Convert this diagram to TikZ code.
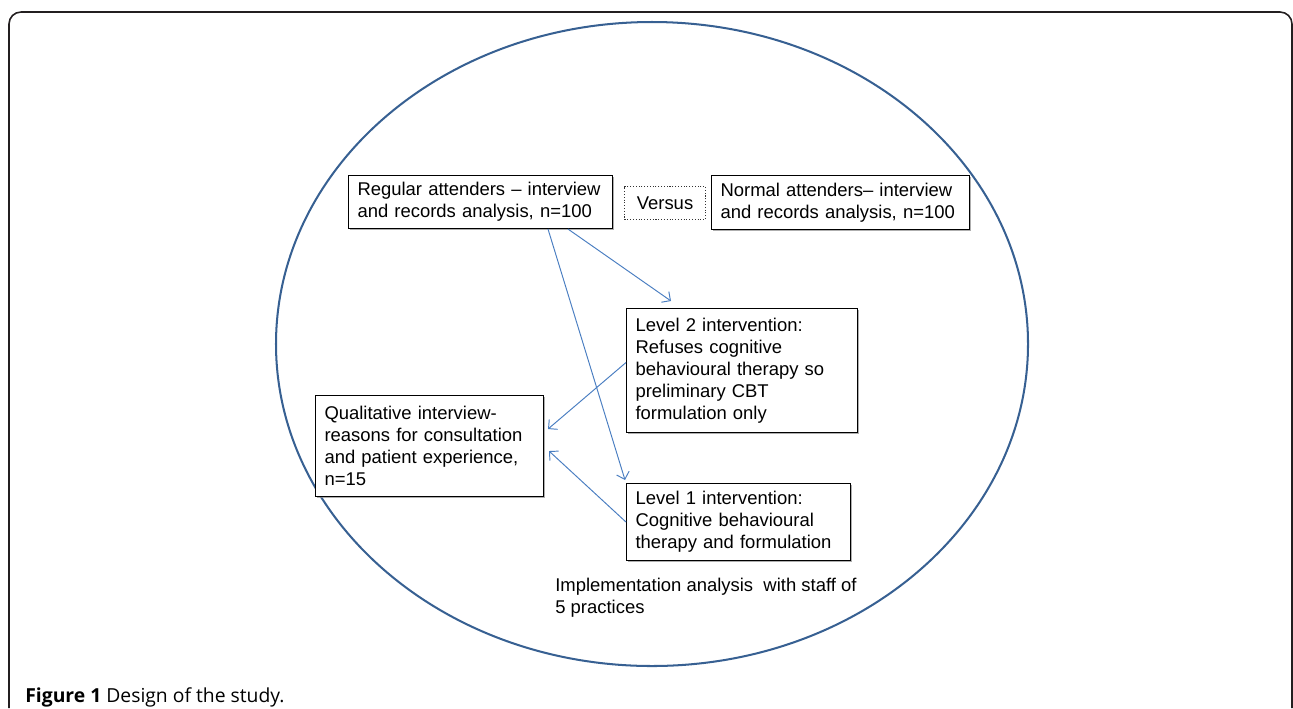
\documentclass[tikz,border=0pt]{standalone}
\usepackage{fontspec}
\setmainfont{Liberation Sans}
\newfontfamily\capfont{Open Sans}
\usepackage{tikz}
\usetikzlibrary{arrows.meta}
\usetikzlibrary{calc}
\usetikzlibrary{shadows}
\definecolor{ringblue}{RGB}{55,96,146}
\definecolor{linkblue}{RGB}{74,126,193}
\definecolor{framegray}{RGB}{35,31,32}
\tikzstyle{box}=[rectangle,draw=black,line width=0.6pt,anchor=north west,align=left,inner xsep=0.18cm,inner ysep=0pt,fill=white,drop shadow={shadow xshift=0.6pt,shadow yshift=-0.6pt,fill=black!45,opacity=0.7}]
\tikzstyle{versusbox}=[rectangle,draw=black!80,densely dotted,line width=0.6pt,anchor=north west,inner sep=0pt,minimum width=1.62cm,minimum height=0.66cm]
\tikzstyle{link}=[draw=linkblue,line width=0.55pt,-{Straight Barb[length=1.3mm,width=2.6mm]}]
\tikzstyle{note}=[anchor=north west,align=left,inner sep=0pt]
\tikzset{every node/.style={font=\fontsize{10.5}{12.6}\selectfont}}

\begin{document}
\begin{tikzpicture}[x=0.02cm,y=-0.02cm]
  \useasboundingbox (0,0) rectangle (1293,708);
  \draw[framegray,line width=0.9pt,rounded corners=0.24cm] (9,708) -- (9,12) -- (1292,12) -- (1292,708);
  \draw[ringblue,line width=1.15pt] (652,344) ellipse [x radius=376,y radius=322];
  % boxes
  \node[box,text width=4.92cm,minimum height=1.06cm] at (348,175) (reg) {Regular attenders -- interview\\and records analysis, n=100};
  \node[versusbox] at (624,186) (vs) {Versus};
  \node[box,text width=4.8cm,minimum height=1.08cm] at (711,175) (norm) {Normal attenders-- interview\\and records analysis, n=100};
  \node[box,text width=4.26cm,minimum height=2.48cm] at (626,308) (ltwo) {Level 2 intervention:\\Refuses cognitive\\behavioural therapy so\\preliminary CBT\\formulation only};
  \node[box,text width=4.2cm,minimum height=2.02cm] at (315,395) (qual) {Qualitative interview-\\reasons for consultation\\and patient experience,\\n=15};
  \node[box,text width=4.12cm,minimum height=1.54cm] at (626,483) (lone) {Level 1 intervention:\\Cognitive behavioural\\therapy and formulation};
  \node[note] at (555,578) (impl) {Implementation analysis\ \ with staff of\\5 practices};
  % arrows
  \draw[link] ($(reg.south east)+(-65,0)$) -- ($(lone.north west)+(-1,-3)$);
  \draw[link] ($(reg.south east)+(-45,0)$) -- ($(ltwo.north west)+(45,-7)$);
  \draw[link] ($(ltwo.west)+(0,-8)$) -- ($(qual.east)+(4,-17)$);
  \draw[link] (lone.west) -- ($(qual.east)+(5,5)$);
  \node[anchor=base west,inner sep=0pt,font=\capfont\fontsize{11}{13}\selectfont] at (25,702) (cap) {\textbf{Figure 1} Design of the study.};
\end{tikzpicture}
\end{document}
